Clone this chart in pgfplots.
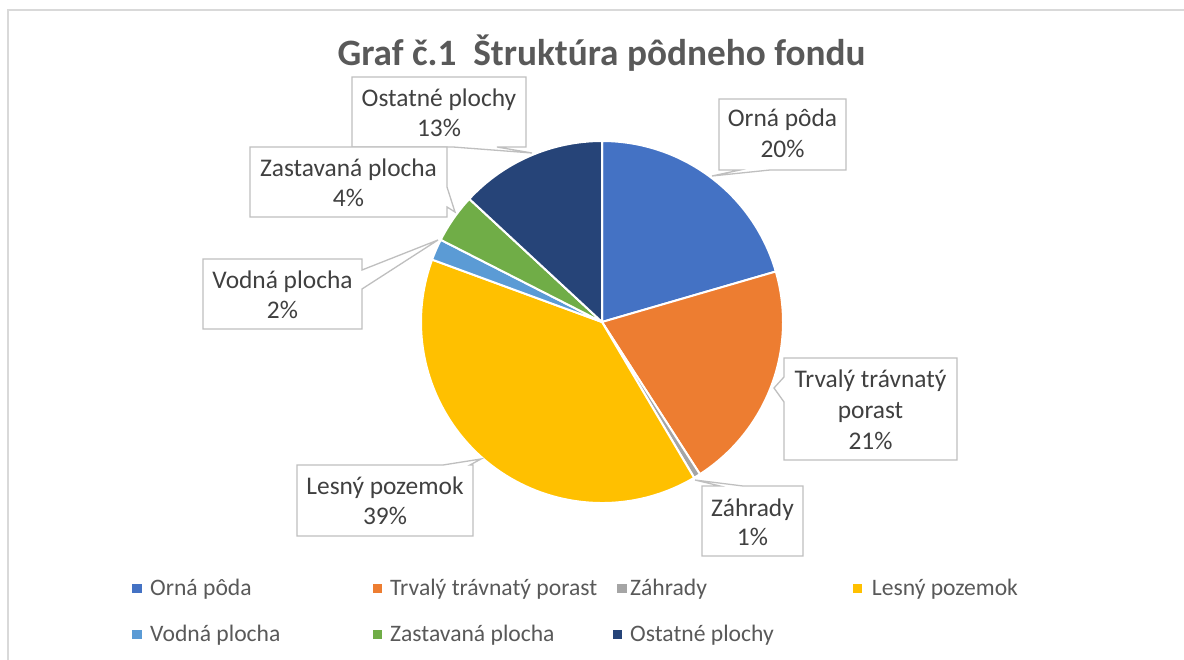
\documentclass[border=0pt]{standalone}
\usepackage{pgfplots}
\pgfplotsset{compat=1.18}
\usepackage{pgfplotstable}
\usepackage{fontspec}
\setmainfont{Carlito}
\definecolor{c0}{HTML}{4472C4}
\definecolor{c1}{HTML}{ED7D31}
\definecolor{c2}{HTML}{A5A5A5}
\definecolor{c3}{HTML}{FFC000}
\definecolor{c4}{HTML}{5B9BD5}
\definecolor{c5}{HTML}{70AD47}
\definecolor{c6}{HTML}{264478}
\definecolor{lblgray}{HTML}{BFBFBF}
\definecolor{txt}{HTML}{404040}
\definecolor{ttl}{HTML}{595959}
\definecolor{framec}{HTML}{D9D9D9}
\newcommand\lbl{\fontsize{25.5}{31}\selectfont}
\newcommand\legfont{\fontsize{23.7}{29}\selectfont}
\newcommand\ttlfont{\fontsize{37.4}{45}\selectfont\bfseries}
\tikzset{
  callout/.style={fill=white,draw=lblgray,line width=1.3bp,line join=miter},
  lab/.style={anchor=base,inner sep=0pt,text=txt,font=\lbl},
  leg/.style={anchor=base west,inner sep=0pt,text=ttl,font=\legfont}}

% share of each category in % (Orná pôda, Trvalý trávnatý porast, Záhrady,
% Lesný pozemok, Vodná plocha, Zastavaná plocha, Ostatné plochy)
\pgfplotstableread{
value
20.5
20.4
0.6
39.1
1.9
4.4
13.1
}\piedata

\begin{document}
\begin{tikzpicture}
\xdef\cumv{0}
\foreach \i in {0,...,6}{%
  \pgfplotstablegetelem{\i}{value}\of\piedata
  \pgfmathsetmacro\va{90-3.6*\cumv}%
  \pgfmathsetmacro\vc{\cumv+\pgfplotsretval}%
  \pgfmathsetmacro\vb{90-3.6*\vc}%
  \expandafter\xdef\csname sa\i\endcsname{\va}%
  \expandafter\xdef\csname sb\i\endcsname{\vb}%
  \xdef\cumv{\vc}%
}
\begin{axis}[x=1bp,y=1bp,xmin=0,xmax=1184,ymin=0,ymax=660,
  hide axis,clip=false,anchor=origin,at={(0,0)},scale only axis]
% frame
\draw[framec,line width=1.3bp] (axis cs:8,0) -- (axis cs:8,650) -- (axis cs:1184,650);
% title
\node[anchor=base,inner sep=0pt,text=ttl,font=\ttlfont] at (axis cs:601.5,594) {Graf č.1\ \ Štruktúra pôdneho fondu};
% pie slices
\pgfplotsinvokeforeach{0,...,6}{%
  \edef\temp{\noexpand\fill[c#1,draw=white,line width=2bp,line join=round] (axis cs:602,338) -- ++(\csname sa#1\endcsname:181bp) arc[start angle=\csname sa#1\endcsname, end angle=\csname sb#1\endcsname, radius=181bp] -- cycle;}%
  \temp
}
% callouts
\draw[callout] (axis cs:352,583) -- (axis cs:526,583) -- (axis cs:526,513) -- (axis cs:497,513) -- (axis cs:532,507) -- (axis cs:453,513) -- (axis cs:352,513) -- cycle;
\node[lab] at (axis cs:439,553) {Ostatné plochy};
\node[lab] at (axis cs:439,523) {13\%};

\draw[callout] (axis cs:250,513) -- (axis cs:447,513) -- (axis cs:447,473) -- (axis cs:455,448) -- (axis cs:447,453) -- (axis cs:447,443) -- (axis cs:250,443) -- cycle;
\node[lab] at (axis cs:348.5,483) {Zastavaná plocha};
\node[lab] at (axis cs:348.5,453) {4\%};

\draw[callout] (axis cs:203,401) -- (axis cs:362,401) -- (axis cs:362,390) -- (axis cs:438,420) -- (axis cs:362,371) -- (axis cs:362,331) -- (axis cs:203,331) -- cycle;
\node[lab] at (axis cs:282.5,371) {Vodná plocha};
\node[lab] at (axis cs:282.5,341) {2\%};

\draw[callout] (axis cs:297,195) -- (axis cs:443,195) -- (axis cs:481,201) -- (axis cs:470,195) -- (axis cs:473,195) -- (axis cs:473,124) -- (axis cs:297,124) -- cycle;
\node[lab] at (axis cs:385,165) {Lesný pozemok};
\node[lab] at (axis cs:385,135) {39\%};

\draw[callout] (axis cs:702,174) -- (axis cs:720,174) -- (axis cs:695,180) -- (axis cs:743,174) -- (axis cs:803,174) -- (axis cs:803,104) -- (axis cs:702,104) -- cycle;
\node[lab] at (axis cs:752.5,143) {Záhrady};
\node[lab] at (axis cs:752.5,114) {1\%};

\draw[callout] (axis cs:784,302) -- (axis cs:957,302) -- (axis cs:957,200) -- (axis cs:784,200) -- (axis cs:784,258) -- (axis cs:774,272) -- (axis cs:784,283) -- cycle;
\node[lab] at (axis cs:870.5,272) {Trvalý trávnatý};
\node[lab] at (axis cs:870.5,241) {porast};
\node[lab] at (axis cs:870.5,210) {21\%};

\draw[callout] (axis cs:719,561) -- (axis cs:846,561) -- (axis cs:846,490) -- (axis cs:770,490) -- (axis cs:712,484) -- (axis cs:740,490) -- (axis cs:719,490) -- cycle;
\node[lab] at (axis cs:782.5,533) {Orná pôda};
\node[lab] at (axis cs:782.5,502) {20\%};

% legend
\fill[c0] (axis cs:132.3,66.7) rectangle (axis cs:141.6,76);
\node[leg] at (axis cs:150,64) {Orná pôda};
\fill[c1] (axis cs:372.7,66.7) rectangle (axis cs:382,76);
\node[leg] at (axis cs:390,64) {Trvalý trávnatý porast};
\fill[c2] (axis cs:617.3,66.7) rectangle (axis cs:626.6,76);
\node[leg] at (axis cs:630,64) {Záhrady};
\fill[c3] (axis cs:853,66.7) rectangle (axis cs:862.3,76);
\node[leg] at (axis cs:871.7,64) {Lesný pozemok};
\fill[c4] (axis cs:132.3,20.7) rectangle (axis cs:141.6,30);
\node[leg] at (axis cs:150,18.3) {Vodná plocha};
\fill[c5] (axis cs:372.7,20.7) rectangle (axis cs:382,30);
\node[leg] at (axis cs:390,18.3) {Zastavaná plocha};
\fill[c6] (axis cs:612.7,20.7) rectangle (axis cs:622,30);
\node[leg] at (axis cs:630,18.3) {Ostatné plochy};
\end{axis}
\pgfresetboundingbox
\path (0,0) rectangle (1184bp,660bp);
\end{tikzpicture}
\end{document}
